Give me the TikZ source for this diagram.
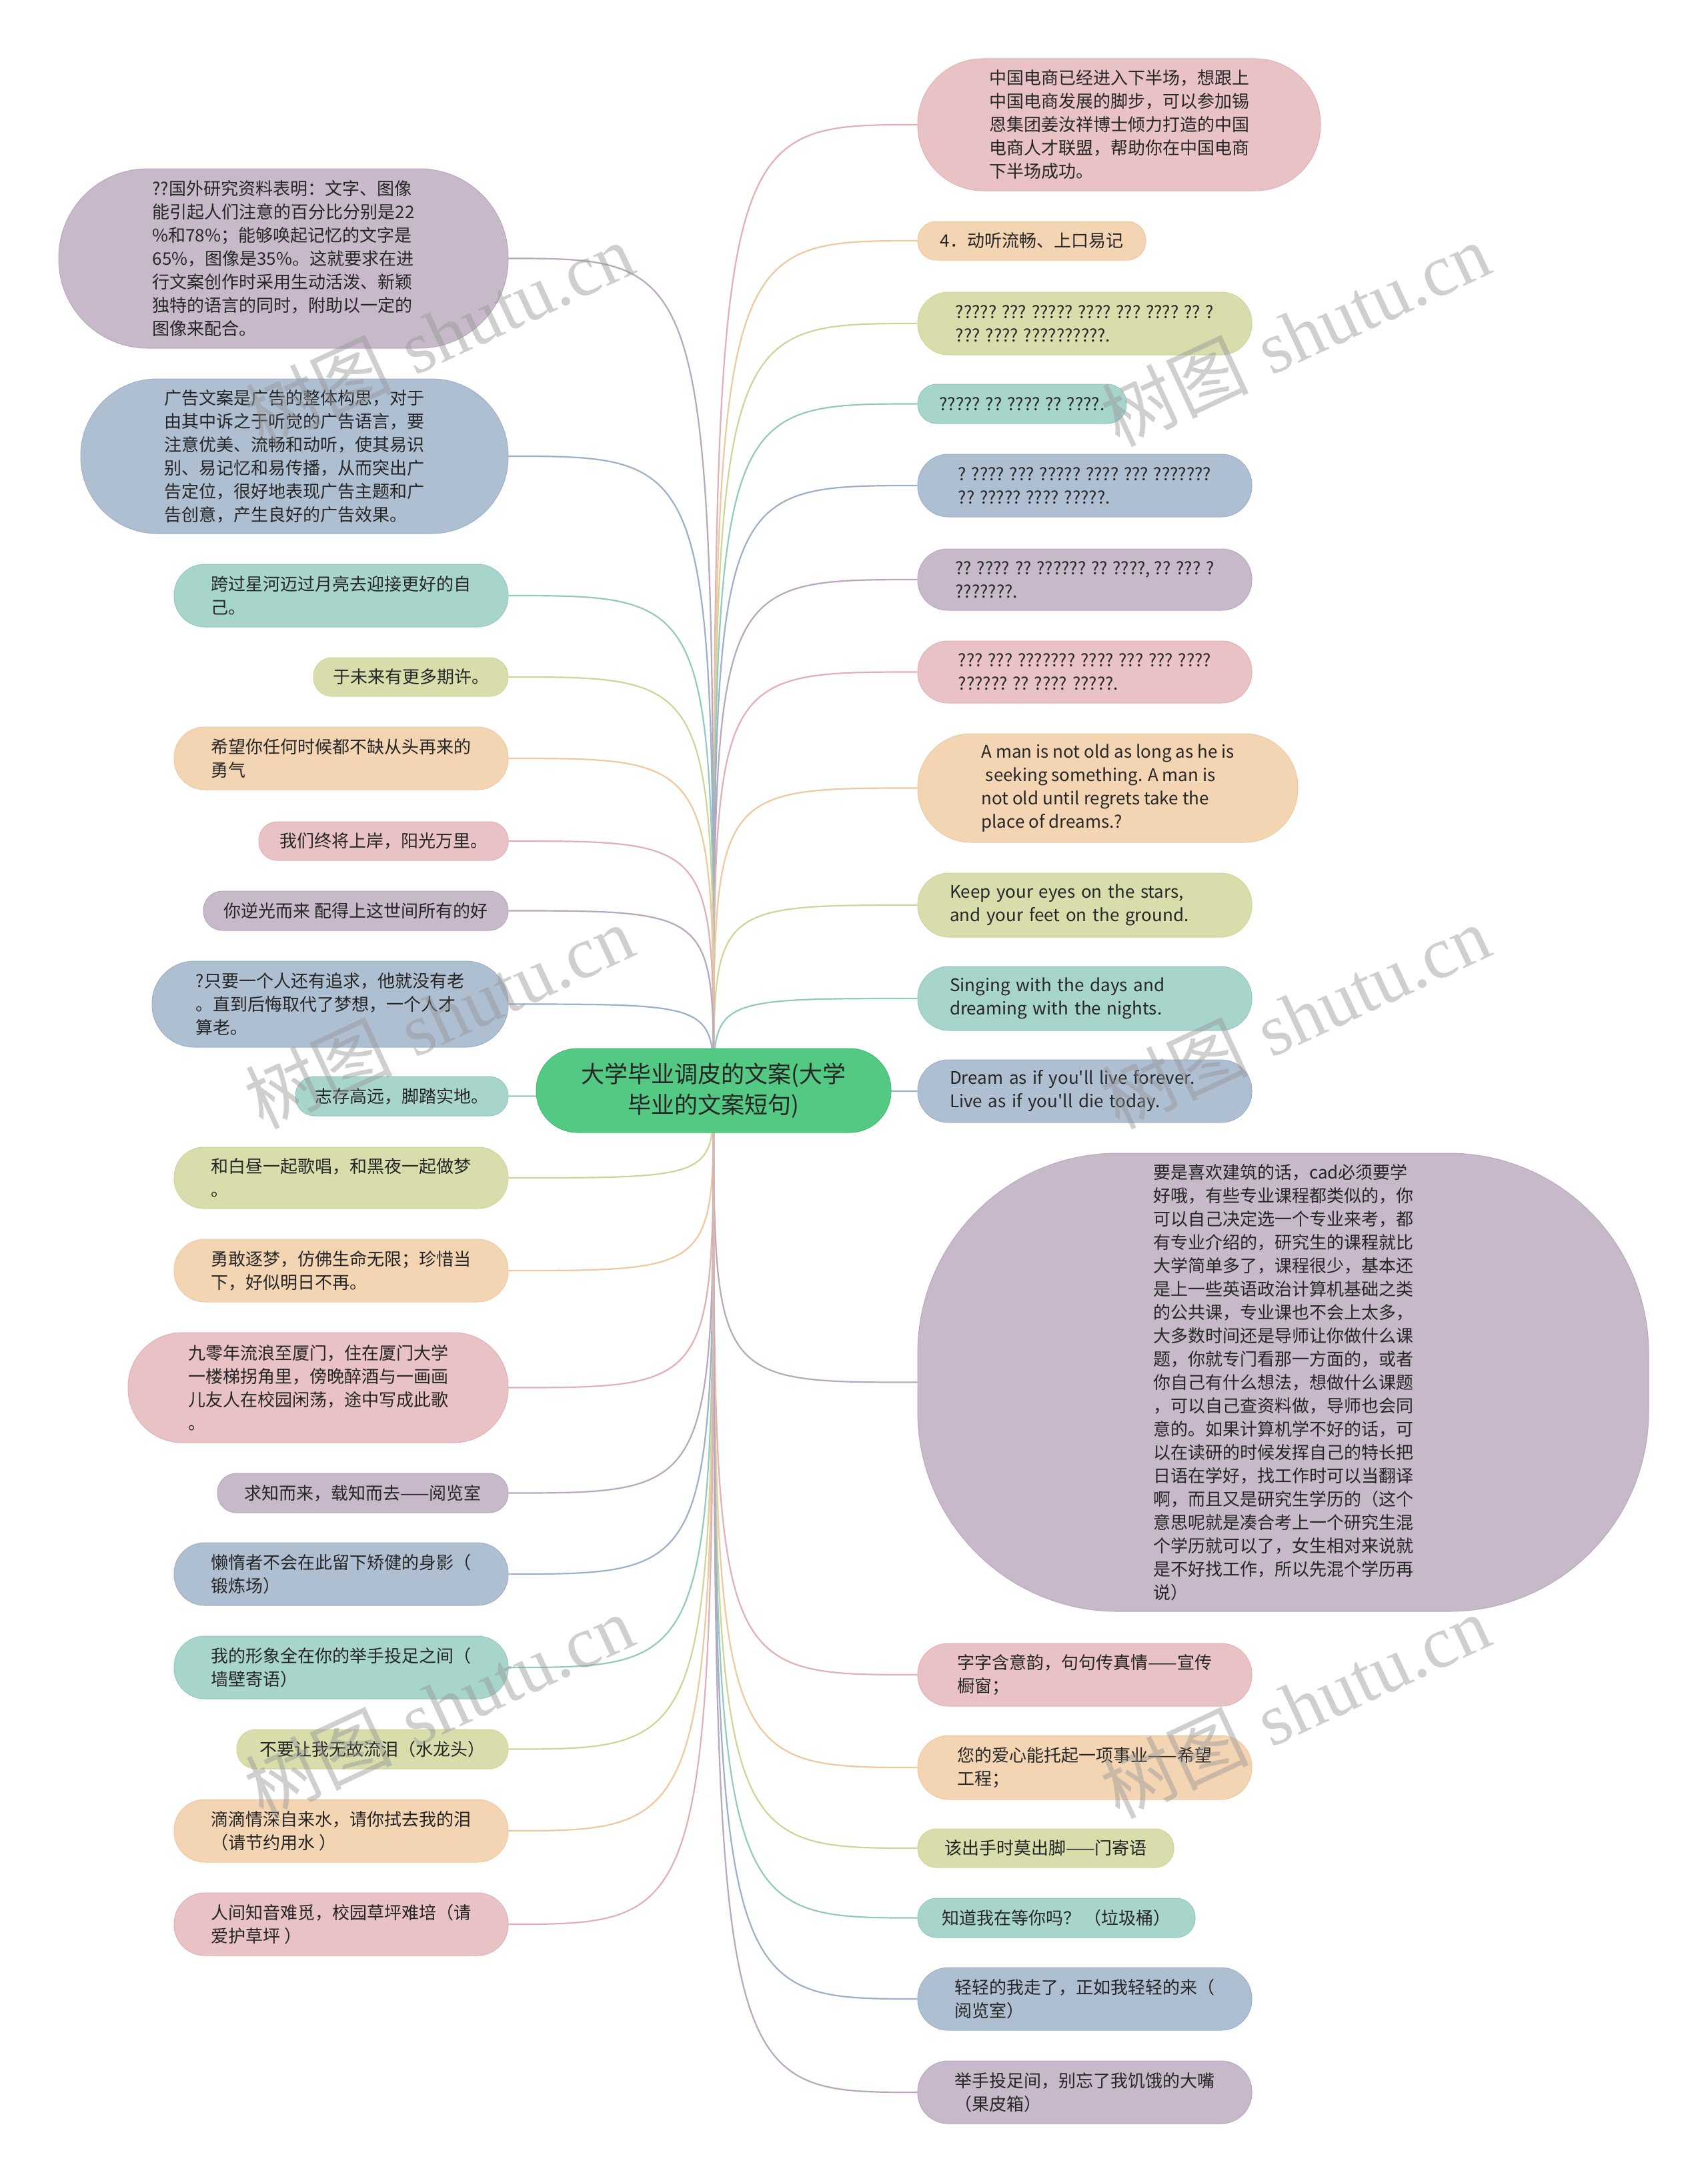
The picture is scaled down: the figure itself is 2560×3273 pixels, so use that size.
\documentclass[tikz,border=0pt]{standalone}
\usepackage{fontspec}
\newfontfamily\cjk{Noto Sans CJK SC}
\newfontfamily\wmserif{Liberation Serif}
\definecolor{pkF}{RGB}{232,194,196}\definecolor{pkL}{RGB}{226,176,180}
\definecolor{orF}{RGB}{243,213,180}\definecolor{orL}{RGB}{239,200,160}
\definecolor{ygF}{RGB}{217,221,172}\definecolor{ygL}{RGB}{207,213,152}
\definecolor{tlF}{RGB}{168,213,203}\definecolor{tlL}{RGB}{148,201,189}
\definecolor{blF}{RGB}{175,191,210}\definecolor{blL}{RGB}{157,176,199}
\definecolor{puF}{RGB}{199,185,202}\definecolor{puL}{RGB}{184,167,189}
\definecolor{rootF}{RGB}{83,201,131}\definecolor{rootL}{RGB}{72,188,118}
\definecolor{txt}{RGB}{38,38,38}
\definecolor{wmc}{RGB}{150,150,150}
\pgfdeclarelayer{bg}
\pgfsetlayers{bg,main}
\begin{document}
\begin{tikzpicture}[x=1pt,y=-1pt,
  leaf/.style n args={3}{shape=rectangle, fill=#1F, draw=#1L, line width=1,
    minimum width=#2, minimum height=#3, rounded corners={#3/2-1}, inner sep=0,
    align=left, text=txt, font=\cjk\fontsize{26}{35}\selectfont},
  rootnode/.style={shape=rectangle, fill=rootF, draw=rootL, line width=1,
    minimum width=532, minimum height=126, rounded corners=62, inner sep=0,
    align=center, text=txt, font=\cjk\fontsize{35}{46}\selectfont},
  link/.style={draw=#1, line width=2.2},
  wm/.style={text=wmc, opacity=0.45, rotate=25, inner sep=0, font=\fontsize{110}{120}\selectfont}]
\useasboundingbox (0,0) rectangle (2560,3273);

% ---------- root ----------
\node[rootnode] (root) at (1070,1635) {大学毕业调皮的文案(大学\\毕业的文案短句)};

% ---------- right column ----------
\node[leaf={pk}{604}{198}] (R1) at (1678,187) {中国电商已经进入下半场，想跟上\\中国电商发展的脚步，可以参加锡\\恩集团姜汝祥博士倾力打造的中国\\电商人才联盟，帮助你在中国电商\\下半场成功。};
\node[leaf={or}{342}{58}] (R2) at (1547,361) {4．动听流畅、上口易记};
\node[leaf={yg}{501}{94}] (R3) at (1626.5,485) {????? ??? ????? ???? ??? ???? ?? ?\\??? ???? ??????????.};
\node[leaf={tl}{313}{59}] (R4) at (1532.5,605.5) {????? ?? ???? ?? ????.};
\node[leaf={bl}{501}{94}] (R5) at (1626.5,728) {? ???? ??? ????? ???? ??? ???????\\?? ????? ???? ?????.};
\node[leaf={pu}{501}{92}] (R6) at (1626.5,869) {?? ???? ?? ?????? ?? ????, ?? ??? ?\\???????.};
\node[leaf={pk}{501}{93}] (R7) at (1626.5,1007.5) {??? ??? ??????? ???? ??? ??? ????\\?????? ?? ???? ?????.};
\node[leaf={or}{570}{163}] (R8) at (1661,1181.5) {A man is not old as long as he is\\\hspace{0.25em}seeking something. A man is\\not old until regrets take the\\place of dreams.?};
\node[leaf={yg}{501}{96}, text width=405] (R9) at (1626.5,1357) {Keep your eyes on the stars,\\and your feet on the ground.};
\node[leaf={tl}{501}{96}, text width=405] (R10) at (1626.5,1497) {Singing with the days and\\dreaming with the nights.};
\node[leaf={bl}{501}{94}, text width=405] (R11) at (1626.5,1636) {Dream as if you'll live forever.\\Live as if you'll die today.};
\node[leaf={pu}{1096}{687}, rounded corners=300] (R12) at (1924,2072.5) {要是喜欢建筑的话，cad必须要学\\好哦，有些专业课程都类似的，你\\可以自己决定选一个专业来考，都\\有专业介绍的，研究生的课程就比\\大学简单多了，课程很少，基本还\\是上一些英语政治计算机基础之类\\的公共课，专业课也不会上太多，\\大多数时间还是导师让你做什么课\\题，你就专门看那一方面的，或者\\你自己有什么想法，想做什么课题\\，可以自己查资料做，导师也会同\\意的。如果计算机学不好的话，可\\以在读研的时候发挥自己的特长把\\日语在学好，找工作时可以当翻译\\啊，而且又是研究生学历的（这个\\意思呢就是凑合考上一个研究生混\\个学历就可以了，女生相对来说就\\是不好找工作，所以先混个学历再\\说）};
\node[leaf={pk}{501}{94}] (R13) at (1626.5,2511) {字字含意韵，句句传真情——宣传\\橱窗；};
\node[leaf={or}{501}{96}] (R14) at (1626.5,2650) {您的爱心能托起一项事业——希望\\工程；};
\node[leaf={yg}{384}{58}] (R15) at (1568,2771) {该出手时莫出脚——门寄语};
\node[leaf={tl}{416}{59}] (R16) at (1584,2875.5) {知道我在等你吗？ （垃圾桶）};
\node[leaf={bl}{501}{94}] (R17) at (1626.5,2997) {轻轻的我走了，正如我轻轻的来（\\阅览室）};
\node[leaf={pu}{501}{94}] (R18) at (1626.5,3137) {举手投足间，别忘了我饥饿的大嘴\\（果皮箱）};

% ---------- left column ----------
\node[leaf={pu}{674}{269}] (L1) at (425,387.5) {??国外研究资料表明：文字、图像\\能引起人们注意的百分比分别是22\\\%和78\%；能够唤起记忆的文字是\\65\%，图像是35\%。这就要求在进\\行文案创作时采用生动活泼、新颖\\独特的语言的同时，附助以一定的\\图像来配合。};
\node[leaf={bl}{641}{232}] (L2) at (441.5,684) {广告文案是广告的整体构思，对于\\由其中诉之于听觉的广告语言，要\\注意优美、流畅和动听，使其易识\\别、易记忆和易传播，从而突出广\\告定位，很好地表现广告主题和广\\告创意，产生良好的广告效果。};
\node[leaf={tl}{501}{94}] (L3) at (511.5,893) {跨过星河迈过月亮去迎接更好的自\\己。};
\node[leaf={yg}{292}{58}] (L4) at (616,1015) {于未来有更多期许。};
\node[leaf={or}{501}{94}] (L5) at (511.5,1137) {希望你任何时候都不缺从头再来的\\勇气};
\node[leaf={pk}{374}{58}] (L6) at (575,1261) {我们终将上岸，阳光万里。};
\node[leaf={pu}{457}{59}] (L7) at (533.5,1365.5) {你逆光而来 配得上这世间所有的好};
\node[leaf={bl}{534}{129}] (L8) at (495,1505.5) {?只要一个人还有追求，他就没有老\\。直到后悔取代了梦想，一个人才\\算老。};
\node[leaf={tl}{319}{59}] (L9) at (602.5,1643.5) {志存高远，脚踏实地。};
\node[leaf={yg}{501}{92}] (L10) at (511.5,1766) {和白昼一起歌唱，和黑夜一起做梦\\。};
\node[leaf={or}{501}{94}] (L11) at (511.5,1905) {勇敢逐梦，仿佛生命无限；珍惜当\\下，好似明日不再。};
\node[leaf={pk}{570}{165}] (L12) at (477,2080.5) {九零年流浪至厦门，住在厦门大学\\一楼梯拐角里，傍晚醉酒与一画画\\儿友人在校园闲荡，途中写成此歌\\。};
\node[leaf={pu}{436}{59}] (L13) at (544,2238.5) {求知而来，载知而去——阅览室};
\node[leaf={bl}{501}{94}] (L14) at (511.5,2360) {懒惰者不会在此留下矫健的身影（\\锻炼场）};
\node[leaf={tl}{501}{94}] (L15) at (511.5,2500) {我的形象全在你的举手投足之间（\\墙壁寄语）};
\node[leaf={yg}{407}{59}] (L16) at (558.5,2622.5) {不要让我无故流泪（水龙头）};
\node[leaf={or}{501}{94}] (L17) at (511.5,2745) {滴滴情深自来水，请你拭去我的泪\\（请节约用水 ）};
\node[leaf={pk}{501}{94}] (L18) at (511.5,2885) {人间知音难觅，校园草坪难培（请\\爱护草坪 ）};

% ---------- connectors ----------
\begin{pgfonlayer}{bg}
\fill[white] (0,0) rectangle (2560,3273);
\foreach \n/\c in {R1/pkL,R2/orL,R3/ygL,R4/tlL,R5/blL,R6/puL,R7/pkL,R8/orL,R9/ygL,R10/tlL,R11/blL,R12/puL,R13/pkL,R14/orL,R15/ygL,R16/tlL,R17/blL,R18/puL}
  \draw[link=\c] (root.center) .. controls (root.center |- \n.west) .. (\n.west);
\foreach \n/\c in {L1/puL,L2/blL,L3/tlL,L4/ygL,L5/orL,L6/pkL,L7/puL,L8/blL,L9/tlL,L10/ygL,L11/orL,L12/pkL,L13/puL,L14/blL,L15/tlL,L16/ygL,L17/orL,L18/pkL}
  \draw[link=\c] (root.center) .. controls (root.center |- \n.east) .. (\n.east);
\end{pgfonlayer}

% ---------- watermarks ----------
\node[wm] (w1) at (658,501) {{\cjk 树图} {\wmserif shutu.cn}};
\node[wm] (w2) at (1942,501) {{\cjk 树图} {\wmserif shutu.cn}};
\node[wm] (w3) at (658,1524) {{\cjk 树图} {\wmserif shutu.cn}};
\node[wm] (w4) at (1942,1524) {{\cjk 树图} {\wmserif shutu.cn}};
\node[wm] (w5) at (658,2558) {{\cjk 树图} {\wmserif shutu.cn}};
\node[wm] (w6) at (1942,2558) {{\cjk 树图} {\wmserif shutu.cn}};
\end{tikzpicture}
\end{document}
